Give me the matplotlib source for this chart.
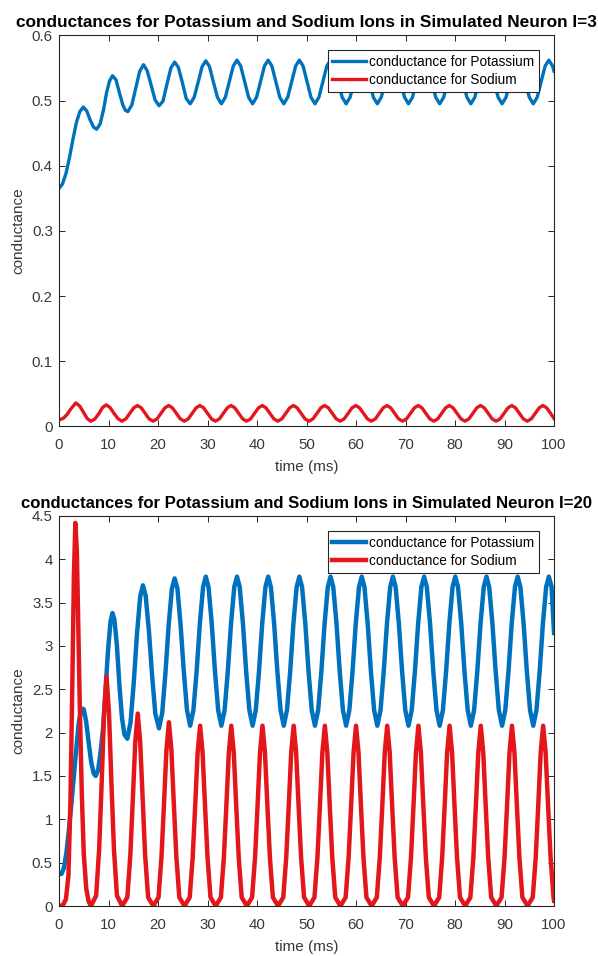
import matplotlib
matplotlib.use("Agg")
import matplotlib.pyplot as plt

plt.rcParams['font.family'] = ['Liberation Sans', 'DejaVu Sans']

# ---- I = 3 : potassium conductance
t_k3 = [0.0, 0.7, 1.4, 2.1, 2.8, 3.5, 4.2, 4.9, 5.6, 6.3, 7.0, 7.6, 8.3, 9.0, 9.6, 10.2, 10.8, 11.5, 12.2, 12.9, 13.4,
        13.9, 14.7, 15.5, 16.3, 17.05, 17.8, 18.6, 19.4,
        20.2, 21.0, 21.8, 22.6, 23.35, 24.1, 24.9, 25.7,
        26.5, 27.3, 28.1, 28.9, 29.65, 30.4, 31.2, 32.0,
        32.8, 33.6, 34.4, 35.2, 35.95, 36.7, 37.5, 38.3,
        39.1, 39.9, 40.7, 41.5, 42.25, 43.0, 43.8, 44.6,
        45.4, 46.2, 47.0, 47.8, 48.55, 49.3, 50.1, 50.9,
        51.7, 52.5, 53.3, 54.1, 54.85, 55.6, 56.4, 57.2,
        58.0, 58.8, 59.6, 60.4, 61.15, 61.9, 62.7, 63.5,
        64.3, 65.1, 65.9, 66.7, 67.45, 68.2, 69.0, 69.8,
        70.6, 71.4, 72.2, 73.0, 73.75, 74.5, 75.3, 76.1,
        76.9, 77.7, 78.5, 79.3, 80.05, 80.8, 81.6, 82.4,
        83.2, 84.0, 84.8, 85.6, 86.35, 87.1, 87.9, 88.7,
        89.5, 90.3, 91.1, 91.9, 92.65, 93.4, 94.2, 95.0,
        95.8, 96.6, 97.4, 98.2, 98.95, 99.7, 100.0]
g_k3 = [0.365, 0.372, 0.388, 0.412, 0.440, 0.466, 0.483, 0.490, 0.484, 0.470, 0.459, 0.456, 0.464, 0.486, 0.512, 0.530, 0.538, 0.532, 0.512, 0.493, 0.485,
        0.483, 0.493, 0.519, 0.545, 0.555, 0.546, 0.524, 0.501,
        0.492, 0.499, 0.525, 0.550, 0.559, 0.551, 0.528, 0.503,
        0.495, 0.505, 0.528, 0.552, 0.561, 0.552, 0.528, 0.505,
        0.495, 0.505, 0.529, 0.553, 0.562, 0.553, 0.529, 0.505,
        0.495, 0.505, 0.529, 0.553, 0.562, 0.553, 0.529, 0.505,
        0.495, 0.505, 0.529, 0.553, 0.562, 0.553, 0.529, 0.505,
        0.495, 0.505, 0.529, 0.553, 0.562, 0.553, 0.529, 0.505,
        0.495, 0.505, 0.529, 0.553, 0.562, 0.553, 0.529, 0.505,
        0.495, 0.505, 0.529, 0.553, 0.562, 0.553, 0.529, 0.505,
        0.495, 0.505, 0.529, 0.553, 0.562, 0.553, 0.529, 0.505,
        0.495, 0.505, 0.529, 0.553, 0.562, 0.553, 0.529, 0.505,
        0.495, 0.505, 0.529, 0.553, 0.562, 0.553, 0.529, 0.505,
        0.495, 0.505, 0.529, 0.553, 0.562, 0.553, 0.529, 0.505,
        0.495, 0.505, 0.529, 0.553, 0.562, 0.553, 0.545]

# ---- I = 3 : sodium conductance
t_na3 = [0.0, 0.8, 1.6, 2.4, 3.4, 4.2, 5.0, 5.7,
         6.4, 7.2, 8.0, 8.8, 9.55, 10.3, 11.1, 11.9,
         12.7, 13.5, 14.3, 15.1, 15.85, 16.6, 17.4, 18.2,
         19.0, 19.8, 20.6, 21.4, 22.15, 22.9, 23.7, 24.5,
         25.3, 26.1, 26.9, 27.7, 28.45, 29.2, 30.0, 30.8,
         31.6, 32.4, 33.2, 34.0, 34.75, 35.5, 36.3, 37.1,
         37.9, 38.7, 39.5, 40.3, 41.05, 41.8, 42.6, 43.4,
         44.2, 45.0, 45.8, 46.6, 47.35, 48.1, 48.9, 49.7,
         50.5, 51.3, 52.1, 52.9, 53.65, 54.4, 55.2, 56.0,
         56.8, 57.6, 58.4, 59.2, 59.95, 60.7, 61.5, 62.3,
         63.1, 63.9, 64.7, 65.5, 66.25, 67.0, 67.8, 68.6,
         69.4, 70.2, 71.0, 71.8, 72.55, 73.3, 74.1, 74.9,
         75.7, 76.5, 77.3, 78.1, 78.85, 79.6, 80.4, 81.2,
         82.0, 82.8, 83.6, 84.4, 85.15, 85.9, 86.7, 87.5,
         88.3, 89.1, 89.9, 90.7, 91.45, 92.2, 93.0, 93.8,
         94.6, 95.4, 96.2, 97.0, 97.75, 98.5, 99.3, 100.0]
g_na3 = [0.010, 0.012, 0.018, 0.027, 0.036, 0.031, 0.021, 0.012,
         0.008, 0.011, 0.019, 0.029, 0.033, 0.029, 0.020, 0.012,
         0.008, 0.0115, 0.020, 0.0285, 0.032, 0.0285, 0.020, 0.0115,
         0.008, 0.0115, 0.020, 0.0285, 0.032, 0.0285, 0.020, 0.0115,
         0.008, 0.0115, 0.020, 0.0285, 0.032, 0.0285, 0.020, 0.0115,
         0.008, 0.0115, 0.020, 0.0285, 0.032, 0.0285, 0.020, 0.0115,
         0.008, 0.0115, 0.020, 0.0285, 0.032, 0.0285, 0.020, 0.0115,
         0.008, 0.0115, 0.020, 0.0285, 0.032, 0.0285, 0.020, 0.0115,
         0.008, 0.0115, 0.020, 0.0285, 0.032, 0.0285, 0.020, 0.0115,
         0.008, 0.0115, 0.020, 0.0285, 0.032, 0.0285, 0.020, 0.0115,
         0.008, 0.0115, 0.020, 0.0285, 0.032, 0.0285, 0.020, 0.0115,
         0.008, 0.0115, 0.020, 0.0285, 0.032, 0.0285, 0.020, 0.0115,
         0.008, 0.0115, 0.020, 0.0285, 0.032, 0.0285, 0.020, 0.0115,
         0.008, 0.0115, 0.020, 0.0285, 0.032, 0.0285, 0.020, 0.0115,
         0.008, 0.0115, 0.020, 0.0285, 0.032, 0.0285, 0.020, 0.0115,
         0.008, 0.0115, 0.020, 0.0285, 0.032, 0.0285, 0.020, 0.012]

# ---- I = 20 : potassium conductance
t_k20 = [0.0, 0.5, 1.0, 1.5, 2.0, 2.5, 3.0, 3.5, 4.0, 4.5, 5.0, 5.5, 6.0, 6.5, 7.0, 7.4, 7.9, 8.4, 8.9, 9.4, 9.9,
         10.4, 10.8, 11.2, 11.7, 12.2, 12.7, 13.2,
         13.8, 14.45, 15.1, 15.75, 16.4, 16.95, 17.5, 18.15, 18.8, 19.45,
         20.2, 20.85, 21.5, 22.15, 22.8, 23.35, 23.9, 24.55, 25.2, 25.85,
         26.5, 27.15, 27.8, 28.45, 29.1, 29.65, 30.2, 30.85, 31.5, 32.15,
         32.8, 33.45, 34.1, 34.75, 35.4, 35.95, 36.5, 37.15, 37.8, 38.45,
         39.1, 39.75, 40.4, 41.05, 41.7, 42.25, 42.8, 43.45, 44.1, 44.75,
         45.4, 46.05, 46.7, 47.35, 48.0, 48.55, 49.1, 49.75, 50.4, 51.05,
         51.7, 52.35, 53.0, 53.65, 54.3, 54.85, 55.4, 56.05, 56.7, 57.35,
         58.0, 58.65, 59.3, 59.95, 60.6, 61.15, 61.7, 62.35, 63.0, 63.65,
         64.3, 64.95, 65.6, 66.25, 66.9, 67.45, 68.0, 68.65, 69.3, 69.95,
         70.6, 71.25, 71.9, 72.55, 73.2, 73.75, 74.3, 74.95, 75.6, 76.25,
         76.9, 77.55, 78.2, 78.85, 79.5, 80.05, 80.6, 81.25, 81.9, 82.55,
         83.2, 83.85, 84.5, 85.15, 85.8, 86.35, 86.9, 87.55, 88.2, 88.85,
         89.5, 90.15, 90.8, 91.45, 92.1, 92.65, 93.2, 93.85, 94.5, 95.15,
         95.8, 96.45, 97.1, 97.75, 98.4, 98.95, 99.5, 100.0]
g_k20 = [0.37, 0.37, 0.44, 0.62, 0.88, 1.18, 1.50, 1.82, 2.12, 2.28, 2.27, 2.12, 1.88, 1.66, 1.53, 1.50, 1.57, 1.78, 2.05, 2.50, 2.95,
         3.28, 3.38, 3.30, 3.00, 2.55, 2.18, 1.98,
         1.93, 2.12, 2.58, 3.14, 3.57, 3.70, 3.58, 3.18, 2.66, 2.22,
         2.05, 2.23, 2.69, 3.24, 3.66, 3.78, 3.67, 3.25, 2.71, 2.26,
         2.08, 2.26, 2.71, 3.26, 3.68, 3.80, 3.68, 3.26, 2.71, 2.26,
         2.08, 2.26, 2.71, 3.26, 3.68, 3.80, 3.68, 3.26, 2.71, 2.26,
         2.08, 2.26, 2.71, 3.26, 3.68, 3.80, 3.68, 3.26, 2.71, 2.26,
         2.08, 2.26, 2.71, 3.26, 3.68, 3.80, 3.68, 3.26, 2.71, 2.26,
         2.08, 2.26, 2.71, 3.26, 3.68, 3.80, 3.68, 3.26, 2.71, 2.26,
         2.08, 2.26, 2.71, 3.26, 3.68, 3.80, 3.68, 3.26, 2.71, 2.26,
         2.08, 2.26, 2.71, 3.26, 3.68, 3.80, 3.68, 3.26, 2.71, 2.26,
         2.08, 2.26, 2.71, 3.26, 3.68, 3.80, 3.68, 3.26, 2.71, 2.26,
         2.08, 2.26, 2.71, 3.26, 3.68, 3.80, 3.68, 3.26, 2.71, 2.26,
         2.08, 2.26, 2.71, 3.26, 3.68, 3.80, 3.68, 3.26, 2.71, 2.26,
         2.08, 2.26, 2.71, 3.26, 3.68, 3.80, 3.68, 3.26, 2.71, 2.26,
         2.08, 2.26, 2.71, 3.26, 3.68, 3.80, 3.68, 3.15]

# ---- I = 20 : sodium conductance
t_na20 = [0.0, 0.8, 1.4, 1.9, 2.3, 2.7, 3.0, 3.3, 3.6, 3.9, 4.2, 4.6, 5.0, 5.5, 6.0, 6.45,
          7.5, 8.1, 8.6, 9.1, 9.6, 10.1, 10.6, 11.1, 11.7, 12.75,
          13.8, 14.4, 14.9, 15.4, 15.9, 16.4, 16.9, 17.4, 18.0, 19.05,
          20.1, 20.7, 21.2, 21.7, 22.2, 22.7, 23.2, 23.7, 24.3, 25.35,
          26.4, 27.0, 27.5, 28.0, 28.5, 29.0, 29.5, 30.0, 30.6, 31.65,
          32.7, 33.3, 33.8, 34.3, 34.8, 35.3, 35.8, 36.3, 36.9, 37.95,
          39.0, 39.6, 40.1, 40.6, 41.1, 41.6, 42.1, 42.6, 43.2, 44.25,
          45.3, 45.9, 46.4, 46.9, 47.4, 47.9, 48.4, 48.9, 49.5, 50.55,
          51.6, 52.2, 52.7, 53.2, 53.7, 54.2, 54.7, 55.2, 55.8, 56.85,
          57.9, 58.5, 59.0, 59.5, 60.0, 60.5, 61.0, 61.5, 62.1, 63.15,
          64.2, 64.8, 65.3, 65.8, 66.3, 66.8, 67.3, 67.8, 68.4, 69.45,
          70.5, 71.1, 71.6, 72.1, 72.6, 73.1, 73.6, 74.1, 74.7, 75.75,
          76.8, 77.4, 77.9, 78.4, 78.9, 79.4, 79.9, 80.4, 81.0, 82.05,
          83.1, 83.7, 84.2, 84.7, 85.2, 85.7, 86.2, 86.7, 87.3, 88.35,
          89.4, 90.0, 90.5, 91.0, 91.5, 92.0, 92.5, 93.0, 93.6, 94.65,
          95.7, 96.3, 96.8, 97.3, 97.8, 98.3, 98.8, 99.3, 99.9, 100.0]
g_na20 = [0.0, 0.01, 0.08, 0.35, 1.2, 2.6, 3.8, 4.42, 4.1, 3.2, 2.3, 1.3, 0.6, 0.2, 0.05, 0.0,
          0.12, 0.65, 1.40, 2.22, 2.65, 2.22, 1.40, 0.65, 0.12, 0.0,
          0.10, 0.58, 1.22, 1.89, 2.22, 1.89, 1.22, 0.58, 0.10, 0.0,
          0.10, 0.57, 1.17, 1.80, 2.12, 1.80, 1.17, 0.57, 0.10, 0.0,
          0.10, 0.56, 1.15, 1.77, 2.08, 1.77, 1.15, 0.56, 0.10, 0.0,
          0.10, 0.56, 1.15, 1.77, 2.08, 1.77, 1.15, 0.56, 0.10, 0.0,
          0.10, 0.56, 1.15, 1.77, 2.08, 1.77, 1.15, 0.56, 0.10, 0.0,
          0.10, 0.56, 1.15, 1.77, 2.08, 1.77, 1.15, 0.56, 0.10, 0.0,
          0.10, 0.56, 1.15, 1.77, 2.08, 1.77, 1.15, 0.56, 0.10, 0.0,
          0.10, 0.56, 1.15, 1.77, 2.08, 1.77, 1.15, 0.56, 0.10, 0.0,
          0.10, 0.56, 1.15, 1.77, 2.08, 1.77, 1.15, 0.56, 0.10, 0.0,
          0.10, 0.56, 1.15, 1.77, 2.08, 1.77, 1.15, 0.56, 0.10, 0.0,
          0.10, 0.56, 1.15, 1.77, 2.08, 1.77, 1.15, 0.56, 0.10, 0.0,
          0.10, 0.56, 1.15, 1.77, 2.08, 1.77, 1.15, 0.56, 0.10, 0.0,
          0.10, 0.56, 1.15, 1.77, 2.08, 1.77, 1.15, 0.56, 0.10, 0.0,
          0.10, 0.56, 1.15, 1.77, 2.08, 1.77, 1.15, 0.56, 0.10, 0.06]

x_ticks = [0, 10, 20, 30, 40, 50, 60, 70, 80, 90, 100]
y_ticks_top = [0, 0.1, 0.2, 0.3, 0.4, 0.5, 0.6]
y_ticks_bottom = [0, 0.5, 1, 1.5, 2, 2.5, 3, 3.5, 4, 4.5]
titles = ['conductances for Potassium and Sodium Ions in Simulated Neuron I=3',
          'conductances for Potassium and Sodium Ions in Simulated Neuron I=20']
labels = ['conductance for Potassium', 'conductance for Sodium']

BLUE = '#0072BD'
RED = '#E3161B'
AXC = '#262626'
TXT = '#383838'

fig = plt.figure(figsize=(5.98, 9.56), dpi=100)
ax1 = fig.add_axes([0.0987, 0.554, 0.8278, 0.409])
ax2 = fig.add_axes([0.0987, 0.0523, 0.8278, 0.408])


def style(ax, title, yticks, title_size):
    ax.set_xlim(0, 100)
    ax.set_ylim(yticks[0], yticks[-1])
    ax.set_xticks(x_ticks)
    ax.set_xticklabels([f'{v:g}' for v in x_ticks])
    ax.set_yticks(yticks)
    ax.set_yticklabels([f'{v:g}' for v in yticks])
    ax.tick_params(direction='in', length=4.5, width=0.7, top=True, right=True,
                   color=AXC, labelcolor=TXT, labelsize=10.8)
    ax.tick_params(axis='x', pad=8.5)
    ax.tick_params(axis='y', pad=4.5)
    for s in ax.spines.values():
        s.set_color(AXC)
        s.set_linewidth(0.8)
    ax.set_title(title, fontsize=title_size, fontweight='bold', pad=6, color='black')
    ax.set_xlabel('time (ms)', fontsize=11, color=TXT, labelpad=5.8)
    ax.set_ylabel('conductance', fontsize=11, color=TXT)
    ax.yaxis.set_label_coords(-0.068, 0.5)
    leg = ax.legend(loc='upper right', fontsize=9.8, fancybox=False, framealpha=1,
                    edgecolor=AXC, borderaxespad=1.1, handlelength=2.5,
                    handletextpad=0.2, borderpad=0.35, labelspacing=0.3)
    leg.get_frame().set_linewidth(0.8)


ax1.plot(t_k3, g_k3, color=BLUE, lw=2.4, label=labels[0])
ax1.plot(t_na3, g_na3, color=RED, lw=2.4, label=labels[1])
style(ax1, titles[0], y_ticks_top, 12.4)

ax2.plot(t_k20, g_k20, color=BLUE, lw=3.2, label=labels[0])
ax2.plot(t_na20, g_na20, color=RED, lw=3.2, label=labels[1])
style(ax2, titles[1], y_ticks_bottom, 12.1)

fig.savefig('out.png', dpi=100)
